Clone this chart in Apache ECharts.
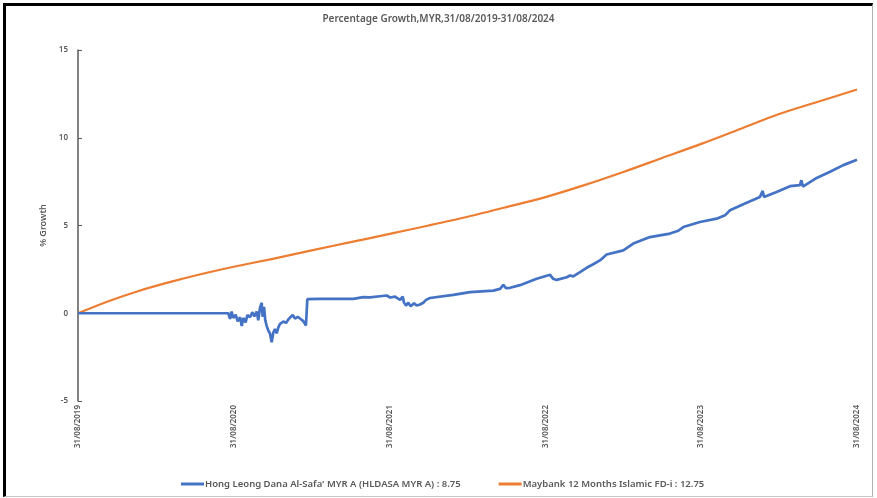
<!DOCTYPE html>
<html>
<head>
<meta charset="utf-8">
<script src="https://cdn.jsdelivr.net/npm/echarts@6/dist/echarts.min.js"></script>
<style>
  body { margin: 0; background: #fff; }
  #wrap { position: relative; width: 877px; height: 498px; }
  #chart { position: absolute; left: 0; top: 0; width: 877px; height: 498px; }
  .frame {
    position: absolute; left: 3px; top: 3px; width: 866px; height: 490px;
    border-left: 3px solid #000; border-top: 3px solid #000;
    border-right: 1px solid #b0b0b0; border-bottom: 1px solid #c8c8c8;
    pointer-events: none;
  }
</style>
</head>
<body>
<div id="wrap">
  <div id="chart"></div>
  <div class="frame"></div>
</div>
<script>
// x = years since 31/08/2019, y = % growth
const yearLabels = ['31/08/2019', '31/08/2020', '31/08/2021', '31/08/2022', '31/08/2023', '31/08/2024'];

const fundName = "Hong Leong Dana Al-Safa' MYR A (HLDASA MYR A) : 8.75";
const fdName = 'Maybank 12 Months Islamic FD-i : 12.75';

const fundX = [0, 0.965, 0.976, 0.986, 0.997, 1.012, 1.025, 1.04, 1.051, 1.061, 1.076, 1.087, 1.104,
  1.119, 1.132, 1.147, 1.157, 1.168, 1.179, 1.185, 1.194, 1.202, 1.211, 1.222, 1.232, 1.243, 1.254,
  1.264, 1.275, 1.286, 1.297, 1.318, 1.335, 1.35, 1.361, 1.378, 1.393, 1.41, 1.425, 1.446, 1.463,
  1.472, 1.553, 1.767, 1.831, 1.874, 1.938, 1.981, 2.003, 2.035, 2.067, 2.084, 2.092, 2.105, 2.12,
  2.135, 2.157, 2.174, 2.195, 2.216, 2.234, 2.259, 2.409, 2.516, 2.666, 2.709, 2.73, 2.747, 2.773,
  2.837, 2.944, 3.03, 3.049, 3.072, 3.137, 3.158, 3.179, 3.222, 3.265, 3.307, 3.35, 3.393, 3.5,
  3.564, 3.671, 3.8, 3.853, 3.885, 3.992, 4.099, 4.153, 4.185, 4.27, 4.377, 4.395, 4.403, 4.484,
  4.57, 4.634, 4.643, 4.653, 4.741, 4.827, 4.912, 5];
const fundY = [0, 0, -0.32, 0.1, -0.27, -0.08, -0.46, -0.23, -0.72, -0.27, -0.52, -0.1, -0.23,
  0.06, -0.18, 0.1, -0.4, 0.3, 0.6, -0.2, 0.36, -0.4, -0.72, -1.0, -1.14, -1.65, -1.1,
  -0.9, -1.14, -0.8, -0.6, -0.47, -0.55, -0.35, -0.45, -0.1, -0.3, -0.2, -0.3, -0.45, -0.7,
  0.8, 0.82, 0.82, 0.92, 0.9, 0.97, 1.01, 0.9, 0.95, 0.76, 0.95, 0.62, 0.44, 0.6,
  0.4, 0.57, 0.44, 0.5, 0.6, 0.76, 0.87, 1.05, 1.2, 1.29, 1.39, 1.62, 1.43, 1.45,
  1.6, 1.97, 2.19, 1.97, 1.9, 2.05, 2.15, 2.1, 2.34, 2.59, 2.79, 3.01, 3.35, 3.58,
  3.97, 4.34, 4.54, 4.7, 4.91, 5.2, 5.39, 5.58, 5.87, 6.21, 6.63, 6.97, 6.62, 6.91,
  7.24, 7.3, 7.58, 7.22, 7.71, 8.06, 8.44, 8.75];

const fdX = [0, 0.2, 0.4, 0.6, 0.8, 1, 1.25, 1.5, 1.75, 2, 2.25, 2.5, 2.75, 3, 3.25, 3.5, 3.75, 4, 4.25, 4.5, 4.75, 5];
const fdY = [0, 0.7, 1.3, 1.8, 2.25, 2.65, 3.1, 3.58, 4.05, 4.52, 5.0, 5.5, 6.05, 6.62, 7.3, 8.05, 8.85, 9.65, 10.5, 11.35, 12.05, 12.75];

function pairs(xs, ys) {
  return xs.map(function (x, i) { return [x, ys[i]]; });
}

const TEXT = '#595959';
const FONT = 'Noto Sans';

const chart = echarts.init(document.getElementById('chart'));
chart.setOption({
  animation: false,
  textStyle: { fontFamily: FONT },
  title: {
    text: 'Percentage Growth,MYR,31/08/2019-31/08/2024',
    left: 'center',
    top: 9,
    textStyle: { fontSize: 10, fontWeight: 600, color: TEXT, fontFamily: FONT }
  },
  legend: {
    left: 176,
    top: 474,
    icon: 'rect',
    itemWidth: 23,
    itemHeight: 3,
    itemGap: 38,
    textStyle: { fontSize: 9.5, fontWeight: 600, color: TEXT, fontFamily: FONT, padding: [0, 0, 0, -4] },
    data: [fundName, fdName]
  },
  grid: { left: 78, right: 20, top: 50, bottom: 97 },
  xAxis: {
    type: 'value',
    min: 0,
    max: 5,
    interval: 1,
    axisLine: { show: false },
    axisTick: { show: false },
    splitLine: { show: false },
    axisLabel: {
      rotate: 90,
      fontSize: 8,
      color: TEXT,
      fontWeight: 600,
      margin: 4,
      formatter: function (v) { return yearLabels[Math.round(v)]; }
    }
  },
  yAxis: {
    type: 'value',
    min: -5,
    max: 15,
    interval: 5,
    name: '% Growth',
    nameLocation: 'middle',
    nameGap: 26,
    nameTextStyle: { fontSize: 9, fontWeight: 600, color: TEXT, fontFamily: FONT },
    axisLine: { show: true, lineStyle: { color: '#595959', width: 1.5 } },
    axisTick: { show: true, inside: true, length: 4, lineStyle: { color: '#595959' } },
    splitLine: { show: false },
    axisLabel: { fontSize: 8, color: TEXT, fontWeight: 600, margin: 10 }
  },
  series: [
    {
      name: fundName,
      type: 'line',
      showSymbol: false,
      data: pairs(fundX, fundY),
      lineStyle: { color: '#4472C4', width: 2.7 },
      itemStyle: { color: '#4472C4' },
      z: 3
    },
    {
      name: fdName,
      type: 'line',
      showSymbol: false,
      smooth: 0.3,
      data: pairs(fdX, fdY),
      lineStyle: { color: '#ED7D31', width: 2.2 },
      itemStyle: { color: '#ED7D31' },
      z: 2
    }
  ]
});
</script>
</body>
</html>
